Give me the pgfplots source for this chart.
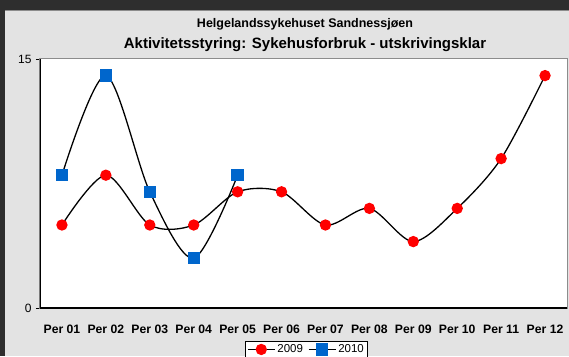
\documentclass[border=0pt]{standalone}
\usepackage{pgfplots}
\pgfplotsset{compat=1.18}
\usepackage{fontspec}
\setmainfont{Liberation Sans}
\definecolor{framedark}{HTML}{2E2E2E}
\definecolor{chartgray}{HTML}{E3E3E3}
\definecolor{borderline}{HTML}{8C8C8C}
\definecolor{sqblue}{HTML}{0066CC}
\definecolor{dotred}{HTML}{FF0000}
\begin{document}
\begin{tikzpicture}[x=1pt,y=1pt]
% window frame and chart area (origin = lower left corner of the plot box)
\fill[framedark] (-40,-48) rectangle (529,308);
\fill[chartgray] (-35,-48) rectangle (529,298);
\draw[borderline,line width=0.8pt] (-35,298) -- (529,298);
\node[anchor=base, font=\fontsize{12.5}{14}\selectfont\bfseries] at (265,280) {Helgelandssykehuset Sandnessjøen};
\node[anchor=base, font=\fontsize{15}{17}\selectfont\bfseries] at (265,259.5) {Aktivitetsstyring: Sykehusforbruk - utskrivingsklar};
\begin{axis}[
  scale only axis, width=527pt, height=249pt,
  xmin=0.5, xmax=12.5, ymin=0, ymax=15,
  xtick={1,...,12},
  xticklabels={Per 01,Per 02,Per 03,Per 04,Per 05,Per 06,Per 07,Per 08,Per 09,Per 10,Per 11,Per 12},
  ytick={0,15},
  x tick label style={font=\fontsize{12.2}{14}\selectfont\bfseries, anchor=base, yshift=-21pt},
  y tick label style={font=\fontsize{12}{14}\selectfont, xshift=-1pt},
  /pgf/number format/assume math mode=true,
  major x tick style={draw=none},
  ytick pos=left, tick align=outside,
  major tick length=4pt,
  y tick style={black, line width=0.8pt},
  axis background/.style={fill=white},
  axis line style={borderline, line width=1pt},
  legend columns=2,
  reverse legend,
  legend style={at={(0.5057,-0.1325)}, anchor=north, draw=black, fill=white,
    font=\fontsize{11.5}{13}\selectfont, inner sep=1.5pt,
    /tikz/every even column/.append style={column sep=3pt}},
  legend image code/.code={
    \draw[black, line width=1.3pt] (0,0) -- (27pt,0);
    \draw[#1, draw=none] plot coordinates {(13.5pt,0)};
  },
]
\draw[black, line width=1.5pt] (rel axis cs:0,1) -- (rel axis cs:0,0) -- (rel axis cs:1,0);
% 2010 first, so that the 2009 dots lie on top of its line
\addplot[black, line width=1.3pt, smooth, tension=0.5,
  mark=square*, mark size=5.5pt, mark options={fill=sqblue, draw=sqblue}]
  coordinates {(1,8) (2,14) (3,7) (4,3) (5,8)};
\addlegendentry{2010}
\addplot[black, line width=1.3pt, smooth, tension=0.5,
  mark=*, mark size=5pt, mark options={fill=dotred, draw=dotred}]
  coordinates {(1,5) (2,8) (3,5) (4,5) (5,7) (6,7) (7,5) (8,6) (9,4) (10,6) (11,9) (12,14)};
\addlegendentry{2009}
\end{axis}
\pgfresetboundingbox
\useasboundingbox (-40,-48) rectangle (529,308);
\end{tikzpicture}
\end{document}
